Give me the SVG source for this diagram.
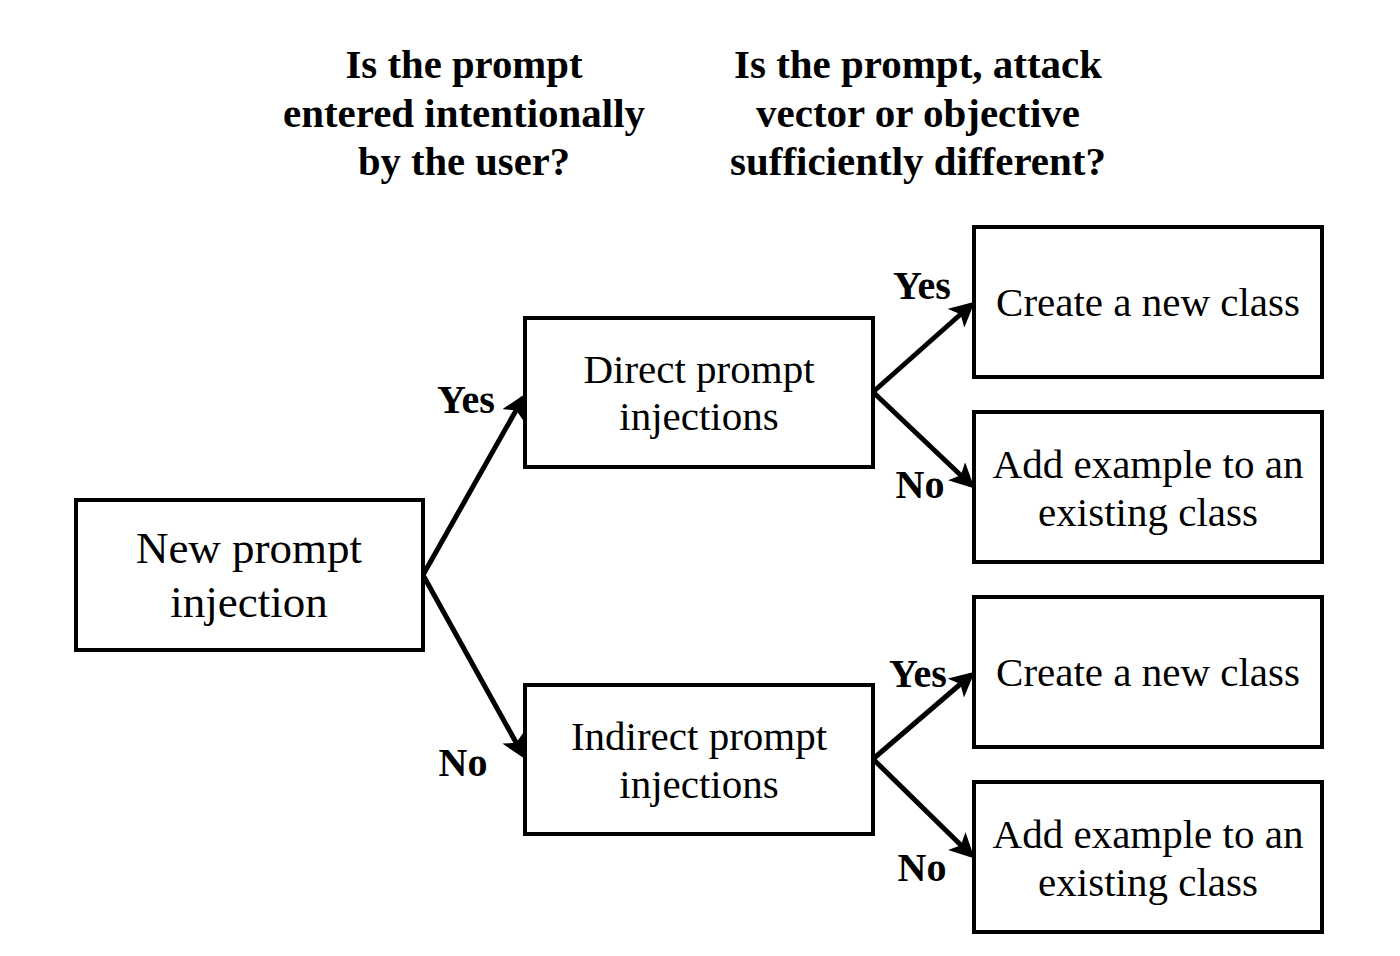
<svg xmlns="http://www.w3.org/2000/svg" width="1400" height="956" viewBox="0 0 1400 956">
<style>
.box{fill:#fff;stroke:#000;stroke-width:4}
.t{font-family:"Liberation Serif","Times New Roman",serif;font-size:41px;text-anchor:middle;fill:#000}
.big{font-size:45px}
.h{font-family:"Liberation Serif","Times New Roman",serif;font-size:40px;font-weight:bold;text-anchor:middle;fill:#000}
.lbl{font-family:"Liberation Serif","Times New Roman",serif;font-size:40px;font-weight:bold;text-anchor:middle;fill:#000}
.c{stroke:#000;stroke-width:5;fill:none;marker-end:url(#ah)}
</style>
<defs>
<marker id="ah" markerWidth="5" markerHeight="5" refX="4" refY="2.5" orient="auto" markerUnits="strokeWidth">
<path d="M0,0 L5,2.5 L0,5 L1.2,2.5 Z" fill="#000"/>
</marker>
</defs>
<rect width="1400" height="956" fill="#fff"/>
<g id="header1">
<text class="h" x="464" y="78" textLength="237" lengthAdjust="spacingAndGlyphs">Is the prompt</text>
<text class="h" x="464" y="127" textLength="362" lengthAdjust="spacingAndGlyphs">entered intentionally</text>
<text class="h" x="464" y="175" textLength="212" lengthAdjust="spacingAndGlyphs">by the user?</text>
</g>
<g id="header2">
<text class="h" x="918" y="78" textLength="368" lengthAdjust="spacingAndGlyphs">Is the prompt, attack</text>
<text class="h" x="918" y="127" textLength="324" lengthAdjust="spacingAndGlyphs">vector or objective</text>
<text class="h" x="918" y="175" textLength="376" lengthAdjust="spacingAndGlyphs">sufficiently different?</text>
</g>
<g id="connectors">
<line class="c" x1="423" y1="575" x2="523" y2="398"/>
<line class="c" x1="423" y1="575" x2="523" y2="755"/>
<line class="c" x1="873" y1="392" x2="971" y2="305"/>
<line class="c" x1="873" y1="392" x2="971" y2="485"/>
<line class="c" x1="873" y1="759" x2="971" y2="675"/>
<line class="c" x1="873" y1="759" x2="971" y2="855"/>
<text class="lbl" x="466" y="413">Yes</text>
<text class="lbl" x="463" y="776">No</text>
<text class="lbl" x="922" y="299">Yes</text>
<text class="lbl" x="920" y="498">No</text>
<text class="lbl" x="918" y="687">Yes</text>
<text class="lbl" x="922" y="881">No</text>
</g>
<g id="root">
<rect class="box" x="76" y="500" width="347" height="150"/>
<text class="t big" x="249" y="563">New prompt</text>
<text class="t big" x="249" y="617">injection</text>
</g>
<g id="direct">
<rect class="box" x="525" y="318" width="348" height="149"/>
<text class="t" x="699" y="383">Direct prompt</text>
<text class="t" x="699" y="430">injections</text>
</g>
<g id="indirect">
<rect class="box" x="525" y="685" width="348" height="149"/>
<text class="t" x="699" y="750">Indirect prompt</text>
<text class="t" x="699" y="798">injections</text>
</g>
<g id="new1">
<rect class="box" x="974" y="227" width="348" height="150"/>
<text class="t" x="1148" y="316">Create a new class</text>
</g>
<g id="add1">
<rect class="box" x="974" y="412" width="348" height="150"/>
<text class="t" x="1148" y="478">Add example to an</text>
<text class="t" x="1148" y="526">existing class</text>
</g>
<g id="new2">
<rect class="box" x="974" y="597" width="348" height="150"/>
<text class="t" x="1148" y="686">Create a new class</text>
</g>
<g id="add2">
<rect class="box" x="974" y="782" width="348" height="150"/>
<text class="t" x="1148" y="848">Add example to an</text>
<text class="t" x="1148" y="896">existing class</text>
</g>
</svg>
